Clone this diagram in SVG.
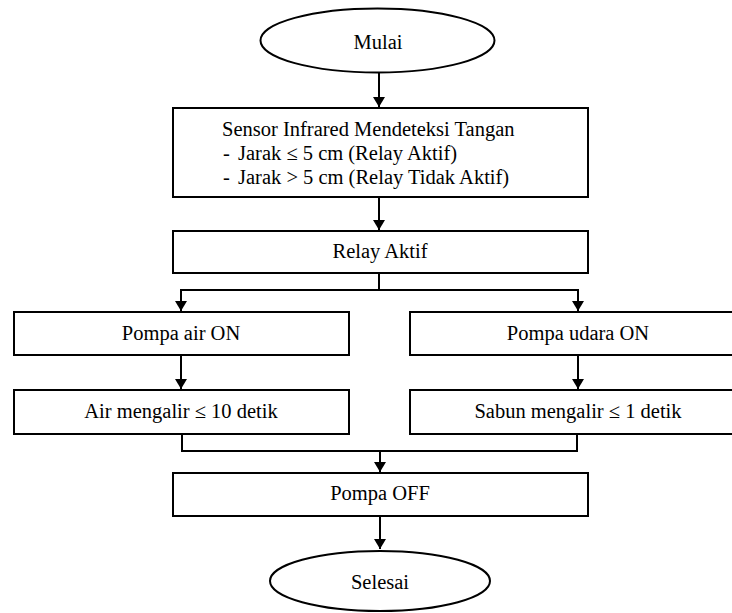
<svg xmlns="http://www.w3.org/2000/svg" width="732" height="613" viewBox="0 0 732 613">
<style>
.s{fill:#fff;stroke:#000;stroke-width:2}
.t{font-size:20.5px;fill:#000}
.c{text-anchor:middle}
.l{fill:none;stroke:#000;stroke-width:2}
</style>
<defs>
<marker id="a" markerWidth="10" markerHeight="12" refX="10" refY="6" orient="auto" markerUnits="userSpaceOnUse">
<path d="M0,0 L10,6 L0,12 Z" fill="#000"/>
</marker>
</defs>
<rect width="732" height="613" fill="#fff"/>
<g id="connectors">
<path class="l" d="M379,73 V107" marker-end="url(#a)"/>
<path class="l" d="M379,197 V230" marker-end="url(#a)"/>
<path class="l" d="M379,273 V290"/>
<path class="l" d="M181,290 H578"/>
<path class="l" d="M181,289 V311" marker-end="url(#a)"/>
<path class="l" d="M578,289 V311" marker-end="url(#a)"/>
<path class="l" d="M181,355 V389" marker-end="url(#a)"/>
<path class="l" d="M578,355 V389" marker-end="url(#a)"/>
<path class="l" d="M182,433 V451 H577 V433"/>
<path class="l" d="M380,451 V472" marker-end="url(#a)"/>
<path class="l" d="M380,516 V549" marker-end="url(#a)"/>
</g>
<g font-family="'Liberation Serif', 'DejaVu Serif', 'Times New Roman', serif">
<g id="mulai">
<ellipse class="s" cx="377.5" cy="40.5" rx="117" ry="32"/>
<text class="t c" x="378" y="49">Mulai</text>
</g>
<g id="sensor">
<rect class="s" x="173" y="108" width="415" height="89"/>
<text class="t" x="222" y="136">Sensor Infrared Mendeteksi Tangan</text>
<text class="t" x="223" y="160">-</text>
<text class="t" x="238" y="160">Jarak ≤ 5 cm (Relay Aktif)</text>
<text class="t" x="223" y="184">-</text>
<text class="t" x="238" y="184">Jarak &gt; 5 cm (Relay Tidak Aktif)</text>
</g>
<g id="relay">
<rect class="s" x="173" y="231" width="415" height="42"/>
<text class="t c" x="380" y="258">Relay Aktif</text>
</g>
<g id="pompa-air">
<rect class="s" x="14" y="312" width="335" height="43"/>
<text class="t c" x="181" y="340">Pompa air ON</text>
</g>
<g id="pompa-udara">
<rect class="s" x="410" y="312" width="336" height="43"/>
<text class="t c" x="578" y="340">Pompa udara ON</text>
</g>
<g id="air-mengalir">
<rect class="s" x="14" y="390" width="335" height="44"/>
<text class="t c" x="181" y="418">Air mengalir ≤ 10 detik</text>
</g>
<g id="sabun-mengalir">
<rect class="s" x="410" y="390" width="336" height="44"/>
<text class="t c" x="578" y="418">Sabun mengalir ≤ 1 detik</text>
</g>
<g id="pompa-off">
<rect class="s" x="173" y="473" width="415" height="43"/>
<text class="t c" x="380" y="500">Pompa OFF</text>
</g>
<g id="selesai">
<ellipse class="s" cx="380" cy="581" rx="110" ry="30"/>
<text class="t c" x="380" y="589">Selesai</text>
</g>
</g>
</svg>
